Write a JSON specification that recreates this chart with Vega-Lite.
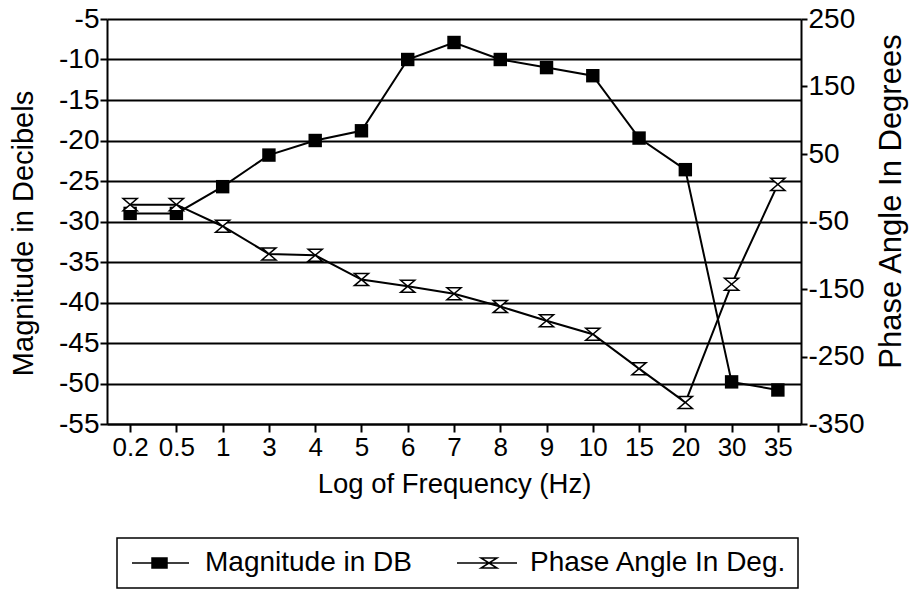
{
  "$schema": "https://vega.github.io/schema/vega-lite/v6.json",
  "width": 694,
  "height": 405,
  "autosize": "none",
  "padding": {"left": 107, "top": 19, "right": 116, "bottom": 167},
  "background": "white",
  "config": {
    "font": "Liberation Sans",
    "view": {"stroke": null},
    "axis": {
      "domainColor": "black", "domainWidth": 2,
      "tickColor": "black", "tickWidth": 2,
      "labelColor": "black", "titleColor": "black",
      "labelFont": "Liberation Sans", "titleFont": "Liberation Sans",
      "titleFontWeight": "normal",
      "gridColor": "black", "gridWidth": 2, "gridOpacity": 1
    }
  },
  "data": {"values": [
    {"f": "0.2", "mag": -29, "phase": -25},
    {"f": "0.5", "mag": -29, "phase": -25},
    {"f": "1", "mag": -25.7, "phase": -57},
    {"f": "3", "mag": -21.8, "phase": -98},
    {"f": "4", "mag": -20, "phase": -100},
    {"f": "5", "mag": -18.8, "phase": -136},
    {"f": "6", "mag": -10, "phase": -146},
    {"f": "7", "mag": -7.9, "phase": -157},
    {"f": "8", "mag": -10, "phase": -176},
    {"f": "9", "mag": -11, "phase": -197},
    {"f": "10", "mag": -12, "phase": -217},
    {"f": "15", "mag": -19.7, "phase": -268},
    {"f": "20", "mag": -23.6, "phase": -318},
    {"f": "30", "mag": -49.8, "phase": -143},
    {"f": "35", "mag": -50.8, "phase": 5}
  ]},
  "encoding": {
    "x": {
      "field": "f", "type": "ordinal", "sort": null,
      "scale": {"paddingInner": 0, "paddingOuter": 0},
      "axis": {
        "title": "Log of Frequency (Hz)", "labelAngle": 0,
        "tickSize": 8, "labelPadding": 2, "labelFontSize": 26,
        "titleFontSize": 27.5, "titlePadding": 10, "grid": false
      }
    }
  },
  "layer": [
    {
      "encoding": {
        "y": {
          "field": "mag", "type": "quantitative",
          "scale": {"domain": [-55, -5], "nice": false, "zero": false},
          "axis": {
            "title": "Magnitude in Decibels",
            "values": [-55, -50, -45, -40, -35, -30, -25, -20, -15, -10, -5],
            "labelExpr": "replace(datum.label, '\u2212', '-')",
            "grid": true, "tickSize": 7, "labelPadding": 1,
            "labelFontSize": 28, "titleFontSize": 29,
            "titlePadding": 20, "titleY": 214
          }
        }
      },
      "layer": [
        {
          "mark": {"type": "line", "color": "black", "strokeWidth": 2},
          "encoding": {
            "color": {
              "datum": "Magnitude in DB", "type": "nominal",
              "scale": {"domain": ["Magnitude in DB", "Phase Angle In Deg."], "range": ["black", "black"]},
              "legend": {
                "orient": "none", "legendX": 10, "legendY": 519,
                "direction": "horizontal", "title": null,
                "padding": 11, "labelFontSize": 28, "labelFont": "Liberation Sans",
                "labelColor": "black", "labelLimit": 500, "symbolSize": 400, "labelOffset": 49,
                "columnPadding": 40, "symbolStrokeWidth": 1.5,
                "encode": {
                  "legend": {"update": {"stroke": {"value": "black"}, "strokeWidth": {"value": 1.5}}},
                  "symbols": {"update": {
                    "shape": {"signal": "datum.value === 'Magnitude in DB' ? 'M-1,0H4.7M1,-0.5H2.5V0.5H1Z' : 'M-1,0H5M1.4,-0.5H3L1.4,0.5H3Z'"},
                    "fill": {"signal": "datum.value === 'Magnitude in DB' ? 'black' : 'white'"},
                    "stroke": {"value": "black"},
                    "strokeWidth": {"value": 1.5},
                    "opacity": {"value": 1}
                  }}
                }
              }
            }
          }
        },
        {
          "mark": {"type": "point", "shape": "square", "filled": true, "color": "black", "size": 180, "opacity": 1}
        }
      ]
    },
    {
      "encoding": {
        "y": {
          "field": "phase", "type": "quantitative",
          "scale": {"domain": [-350, 250], "nice": false, "zero": false},
          "axis": {
            "orient": "right",
            "title": "Phase Angle In Degrees",
            "values": [-350, -250, -150, -50, 50, 150, 250],
            "labelExpr": "replace(datum.label, '\u2212', '-')",
            "grid": false, "tickSize": 6, "labelPadding": 1,
            "labelFontSize": 28, "titleFontSize": 31,
            "titleAngle": -90, "titleBaseline": "top",
            "titlePadding": 12, "titleY": 182
          }
        }
      },
      "layer": [
        {
          "mark": {"type": "line", "color": "black", "strokeWidth": 2},
          "encoding": {
            "color": {"datum": "Phase Angle In Deg.", "type": "nominal"}
          }
        },
        {
          "mark": {"type": "point", "shape": "M-1,-0.85H1L-1,0.85H1Z", "filled": true, "fill": "white", "stroke": "black", "strokeWidth": 1.5, "size": 200, "opacity": 1}
        }
      ]
    }
  ],
  "resolve": {"scale": {"y": "independent"}, "axis": {"y": "independent"}}
}
